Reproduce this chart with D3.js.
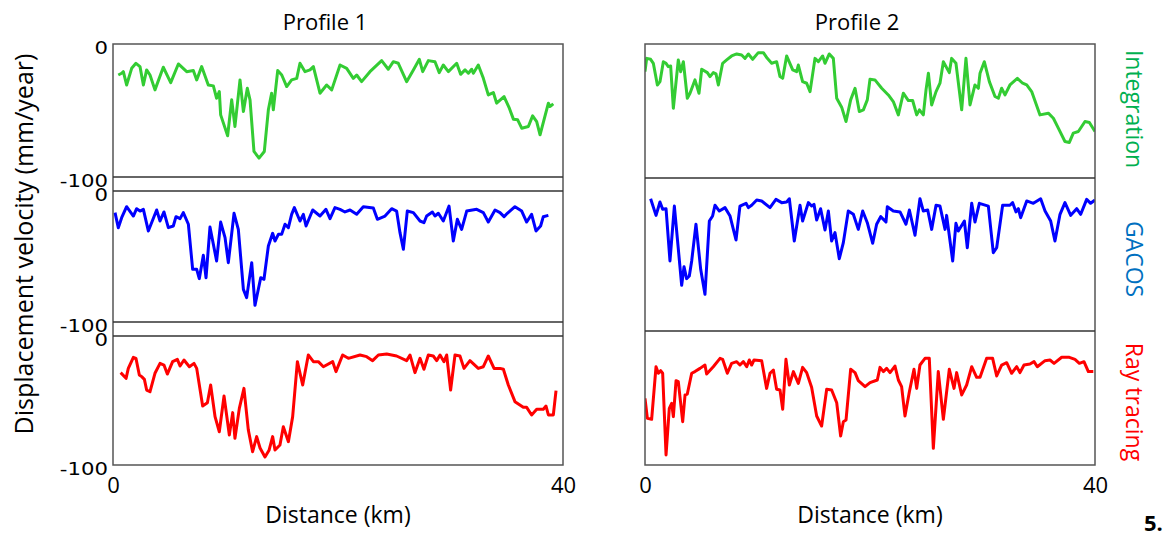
<!DOCTYPE html>
<html>
<head>
<meta charset="utf-8">
<script src="https://cdn.jsdelivr.net/npm/d3@7"></script>
<style>
  body { margin: 0; background: #fff; }
  svg { display: block; }
</style>
</head>
<body>
<script>
// distance (km), displacement velocity (mm/year)
const profiles = ["Profile 1", "Profile 2"];
const methods = ["Integration", "GACOS", "Ray tracing"];
const yTicks = [0, -100];
const xTicks = [0, 40];

const integrationP1 = [[0.47,-23.3],[0.77,-22],[0.92,-20.8],[1.21,-30.8],[1.66,-18.3],[2.04,-14.5],[2.4,-17],[2.7,-30.8],[2.99,-19.5],[3.29,-23.3],[3.73,-34.5],[4.47,-17.5],[5.13,-29],[5.81,-15],[6.55,-20.8],[7.14,-20],[7.44,-27],[7.88,-17],[8.47,-30.8],[8.92,-31.5],[9.21,-40.8],[9.45,-35.8],[9.57,-53.3],[10.19,-69],[10.55,-42],[10.84,-62],[11.29,-27],[11.59,-50.8],[11.94,-33.3],[12.18,-42],[12.53,-80.8],[12.98,-85.8],[13.45,-80.8],[13.81,-49.5],[14.1,-37],[14.25,-49.5],[14.64,-20],[15.0,-23.3],[15.44,-32],[15.88,-27],[16.33,-25.8],[16.62,-14.5],[17.07,-20.8],[17.51,-19.5],[17.81,-17],[18.4,-37],[18.99,-30.8],[19.44,-34.5],[20.18,-15.8],[20.77,-18.3],[21.36,-25.8],[21.66,-23.3],[22.1,-28.3],[22.84,-20.8],[23.88,-12.5],[24.47,-19],[24.92,-13.3],[25.36,-14.5],[26.1,-28.3],[26.7,-19.5],[27.23,-11.5],[27.53,-20.8],[28.03,-12.5],[28.62,-13.3],[29.0,-21.5],[29.36,-15.8],[29.81,-20.8],[30.55,-14.5],[30.9,-22.8],[31.29,-19.5],[31.59,-22],[31.88,-19],[32.03,-22],[32.47,-15.8],[32.92,-25.8],[33.36,-38.3],[33.81,-36.5],[34.1,-44.5],[34.76,-39.5],[35.23,-48.3],[35.59,-56.5],[35.97,-57],[36.33,-63.3],[36.92,-62],[37.3,-54],[37.66,-58.3],[37.96,-68.3],[38.7,-44.5],[38.84,-47],[39.14,-45]];

const gacosP1 = [[0.18,-16.5],[0.47,-28],[0.77,-20.4],[1.21,-12],[1.81,-19.1],[2.1,-13.5],[2.4,-15.3],[2.7,-14],[3.14,-30.5],[3.88,-14.5],[4.18,-22.9],[4.53,-16],[4.92,-28],[5.36,-26.7],[5.6,-19.6],[5.96,-21.1],[6.25,-16.5],[6.7,-25.4],[7.08,-59.8],[7.44,-59.8],[7.67,-66.9],[8.03,-49.1],[8.27,-66.2],[8.62,-27.5],[9.21,-53.4],[9.57,-23.7],[9.96,-35.6],[10.25,-54.7],[10.76,-17],[11.14,-29.3],[11.59,-75.1],[11.88,-81.4],[12.33,-54.7],[12.62,-87.3],[13.13,-66.2],[13.42,-67.4],[13.81,-42],[14.19,-32.3],[14.4,-38.2],[14.7,-33.1],[14.99,-33.1],[15.29,-25.4],[15.59,-28],[15.88,-17.8],[16.12,-12.7],[16.62,-22.9],[16.92,-17.8],[17.16,-26.7],[17.75,-14.5],[18.4,-19.1],[18.93,-14],[19.29,-21.1],[19.73,-12.7],[20.18,-14],[20.62,-16],[21.07,-14.5],[21.66,-17.8],[22.25,-12],[23.14,-13],[23.5,-21.6],[24.18,-19.1],[24.77,-13.5],[25.21,-15.3],[25.51,-31.8],[25.81,-44.5],[26.16,-15.3],[26.7,-16.5],[27.29,-22.9],[27.64,-24.2],[27.88,-19.1],[28.39,-16],[28.62,-19.1],[28.92,-17],[29.36,-22.9],[29.87,-11.5],[30.25,-38.2],[30.61,-21.6],[30.99,-29.3],[31.44,-15.3],[32.33,-14],[32.92,-16.5],[33.36,-23.7],[33.96,-14.5],[34.4,-16.5],[34.76,-19.6],[35.05,-17],[35.73,-12],[36.33,-15.3],[36.77,-23.7],[37.21,-17.8],[37.6,-30.5],[38.01,-26.7],[38.25,-19.6],[38.7,-18.6]];

const rayP1 = [[0.68,-28.4],[1.16,-32.8],[1.36,-25.1],[1.81,-16.5],[2.04,-17.3],[2.34,-30.2],[2.55,-31.5],[2.79,-33.6],[2.99,-41.9],[3.29,-43.2],[3.73,-28.9],[4.18,-21.2],[4.53,-22.5],[4.83,-29.5],[5.3,-19.9],[5.72,-18.1],[5.96,-23.3],[6.31,-18.6],[6.79,-23.8],[7.2,-21.2],[7.44,-25.1],[7.97,-54.3],[8.39,-51.7],[8.68,-38],[9.07,-62.5],[9.45,-74.2],[9.87,-46.5],[10.34,-76.7],[10.64,-59.4],[10.84,-79.3],[11.23,-56.1],[11.64,-40.6],[12.03,-72.9],[12.41,-89.7],[12.77,-78],[13.07,-86.8],[13.51,-93.8],[13.87,-88.6],[14.19,-78],[14.4,-88.4],[14.84,-84.5],[15.14,-70.3],[15.59,-81.9],[15.97,-62.5],[16.39,-19.9],[16.86,-38],[17.36,-14.7],[17.81,-19.9],[18.25,-19.9],[18.7,-23.8],[19.53,-19.9],[19.82,-27.6],[20.41,-14.7],[20.92,-17.3],[21.96,-14.7],[22.55,-16],[23.08,-19.1],[23.59,-14.7],[24.33,-14],[25.21,-15.5],[26.1,-19.1],[26.4,-14.7],[26.84,-28.4],[27.29,-17.3],[27.64,-25.8],[28.03,-14.7],[28.47,-15.5],[28.77,-19.1],[29.07,-14.7],[29.42,-19.9],[29.66,-14.7],[30.01,-41.9],[30.4,-14.7],[30.84,-15.5],[31.2,-25.1],[31.73,-19.1],[32.47,-25.1],[32.92,-23.8],[33.36,-15.5],[33.87,-25.1],[34.4,-25.1],[34.7,-25.8],[35.14,-38],[35.73,-50.9],[36.47,-55.3],[36.77,-55.3],[37.21,-61.2],[37.66,-56.8],[38.25,-56.8],[38.49,-54.3],[38.7,-61.2],[39.14,-61.2],[39.38,-42.4]];

const integrationP2 = [[0,-20.8],[0.15,-10.8],[0.5,-11.5],[0.74,-14.5],[1.1,-30.8],[1.33,-28.3],[1.63,-13.3],[1.87,-14.5],[2.07,-17],[2.28,-16.5],[2.52,-48.3],[2.96,-12],[3.17,-20.8],[3.41,-13.3],[3.76,-40.8],[4.0,-37],[4.44,-27],[4.8,-37],[5.04,-19],[5.54,-21.5],[5.78,-24.5],[6.07,-21.5],[6.31,-22.5],[6.52,-30.8],[6.9,-14.5],[7.26,-12],[7.7,-9],[8.15,-7.5],[8.59,-8.3],[8.89,-10.8],[9.19,-7.5],[9.57,-11.5],[10.07,-6.5],[10.52,-6.5],[10.87,-10.8],[11.26,-14.5],[11.7,-13.3],[12.0,-24.5],[12.24,-25.8],[12.59,-9],[13.13,-19.5],[13.48,-20.8],[13.63,-15.8],[14.01,-28.3],[14.37,-29.5],[14.67,-35.8],[15.11,-10.8],[15.41,-13.3],[15.79,-9],[16.0,-14.5],[16.38,-7.5],[16.74,-10.8],[17.04,-40.8],[17.48,-47.5],[17.87,-58.3],[18.28,-42],[18.67,-33.3],[19.05,-50.8],[19.41,-49.5],[19.76,-42],[20.0,-26.5],[20.44,-27],[21.04,-33.3],[21.63,-38.3],[22.07,-43.3],[22.52,-53.3],[22.96,-37],[23.41,-42.5],[23.79,-42.5],[24.15,-53.3],[24.39,-49.5],[24.74,-53.3],[24.98,-34.5],[25.19,-22],[25.48,-45.8],[25.87,-35.8],[26.22,-29.5],[26.52,-13.3],[27.05,-21.5],[27.26,-10.8],[27.64,-14.5],[28.15,-49.5],[28.53,-10.8],[28.89,-45.8],[29.33,-30.8],[29.63,-33.3],[29.78,-22],[30.16,-13.3],[30.61,-28.3],[31.11,-39.5],[31.41,-40.8],[31.7,-33.3],[32.0,-38.3],[32.44,-30.8],[33.1,-25.8],[33.57,-29.5],[33.93,-30.8],[34.37,-35.8],[35.11,-53.3],[35.85,-52],[36.3,-55.8],[36.74,-63.3],[37.33,-73.3],[37.72,-74],[38.07,-67],[38.52,-65.8],[39.11,-58.3],[39.5,-59],[40,-65.8]];

const gacosP2 = [[0.5,-5.9],[0.98,-18.6],[1.33,-8.4],[1.57,-14],[1.87,-13.5],[2.22,-53.4],[2.61,-11.5],[3.26,-72],[3.47,-57.8],[3.7,-66.9],[3.94,-64.9],[4.15,-53.4],[4.53,-25.4],[4.95,-59.8],[5.33,-78.9],[5.72,-22.9],[6.01,-19.1],[6.22,-10.9],[6.61,-15.3],[7.11,-12.7],[7.56,-19.1],[8.09,-37.4],[8.44,-11.5],[8.98,-9.4],[9.19,-12.7],[9.48,-10.9],[9.93,-6.9],[10.37,-7.6],[11.11,-12.7],[11.64,-6.4],[12.15,-8.9],[12.59,-8.4],[12.83,-5.9],[13.27,-38.2],[13.78,-10.9],[14.01,-22.9],[14.52,-8.9],[14.81,-11.5],[15.02,-10.2],[15.26,-22.1],[15.61,-13.5],[16.0,-29.8],[16.3,-15.3],[16.59,-38.2],[16.89,-31.8],[17.27,-51.7],[17.63,-39.4],[18.07,-15.3],[18.52,-17.8],[18.96,-29.3],[19.35,-15.3],[19.76,-24.2],[20.24,-39.9],[20.59,-25.4],[20.95,-19.6],[21.42,-23.7],[21.54,-12],[22.07,-15.3],[22.67,-16],[23.2,-25.4],[23.5,-14.5],[24.0,-33.8],[24.44,-5.9],[24.74,-15.3],[25.13,-14.5],[25.48,-29.3],[25.87,-10.9],[26.22,-11.5],[26.67,-29.3],[26.81,-18.6],[27.35,-53.4],[27.64,-24.7],[27.85,-30.5],[28.39,-22.9],[28.65,-43.3],[29.04,-9.4],[29.33,-23.7],[29.72,-9.4],[30.52,-11.5],[30.96,-47.1],[31.26,-43.3],[31.79,-10.9],[32.44,-10.9],[32.68,-8.9],[32.98,-16],[33.19,-13.5],[33.39,-20.4],[33.93,-7.6],[34.52,-9.4],[35.17,-5.9],[35.56,-15.3],[36.06,-22.9],[36.44,-38.2],[36.89,-17.8],[37.33,-8.9],[37.84,-18.6],[38.37,-13.5],[38.73,-17.8],[39.26,-6.4],[39.61,-9.4],[40,-6.9]];

const rayP2 = [[0,-48.3],[0.21,-63.8],[0.59,-64.6],[0.98,-23.8],[1.19,-28.9],[1.39,-26.9],[1.57,-28.9],[1.87,-92.2],[2.16,-56.1],[2.37,-52.2],[2.52,-62.5],[2.76,-34.6],[2.96,-35.4],[3.35,-66.4],[3.56,-45.7],[3.76,-45],[4.15,-28.9],[4.44,-27.6],[4.89,-25.1],[5.33,-22.5],[5.48,-29.5],[6.07,-23.8],[6.67,-17.3],[6.9,-18.1],[7.32,-28.9],[7.7,-21.2],[8.15,-19.9],[8.44,-22.5],[8.74,-19.9],[9.04,-23.8],[9.27,-18.6],[9.48,-22.5],[9.69,-18.6],[10.37,-19.1],[10.81,-40.6],[11.11,-28.9],[11.41,-26.4],[11.7,-41.3],[12.0,-41.9],[12.24,-56.8],[12.53,-18.1],[12.83,-38],[13.19,-27.6],[13.63,-36.7],[14.01,-24.3],[14.37,-28.4],[14.81,-39.8],[15.26,-62],[15.7,-69.8],[16.15,-41.3],[16.59,-41.9],[17.04,-51.7],[17.39,-77.5],[17.63,-66.4],[17.87,-65.1],[18.28,-25.8],[18.67,-28.4],[18.96,-34.6],[19.56,-39.3],[20.0,-36.2],[20.65,-34.1],[20.89,-24.3],[21.19,-27.6],[21.48,-25.1],[21.78,-28.4],[22.22,-23.3],[22.52,-34.1],[22.81,-39.3],[23.11,-62],[23.5,-43.2],[23.91,-25.8],[24.15,-40.6],[24.44,-22.5],[24.89,-17.3],[25.27,-17.3],[25.63,-87.1],[26.07,-27.6],[26.52,-64.6],[27.05,-25.8],[27.47,-40.6],[27.7,-28.4],[28.15,-45.7],[28.59,-38],[29.04,-23.8],[29.48,-32],[29.78,-32],[30.37,-17.3],[30.9,-17.3],[31.26,-31],[31.7,-22.5],[32.15,-20.7],[32.59,-28.9],[33.04,-23.8],[33.33,-28.4],[33.69,-22.5],[34.22,-21.7],[34.58,-19.9],[34.87,-23.8],[35.56,-19.1],[36.0,-18.6],[36.36,-21.2],[37.04,-16.5],[37.72,-16.5],[38.22,-18.1],[38.61,-21.2],[39.02,-19.9],[39.41,-27.6],[39.85,-27.6]];

const series = [
  [integrationP1, gacosP1, rayP1],
  [integrationP2, gacosP2, rayP2]
];
const lineColors = ["#33cc33", "#0000ff", "#ff0000"];
const labelColors = ["#00b050", "#0070c0", "#ff0000"];

const width = 1175, height = 537;
const boxTop = 44, boxBottom = 465;
const columns = [{x0: 113, x1: 563}, {x0: 645, x1: 1095}];
// row extents (data scale), left column shows small gaps between rows
const rows = [{y0: 44, y1: 177}, {y0: 191, y1: 322}, {y0: 336, y1: 465}];
// boundaries drawn inside each column box
const dividers = [[177, 191, 322, 336], [178, 331]];

const svg = d3.select("body").append("svg")
  .attr("width", width)
  .attr("height", height)
  .style("font-family", "'Open Sans', sans-serif");

const line = d3.line();

columns.forEach((col, ci) => {
  const x = d3.scaleLinear().domain([0, 40]).range([col.x0, col.x1]);
  const g = svg.append("g");

  g.append("clipPath").attr("id", "clip" + ci)
    .append("rect")
    .attr("x", col.x0).attr("y", boxTop)
    .attr("width", col.x1 - col.x0).attr("height", boxBottom - boxTop);

  rows.forEach((row, ri) => {
    const y = d3.scaleLinear().domain([-100, 0]).range([row.y1, row.y0]);
    line.x(d => x(d[0])).y(d => y(d[1]));
    g.append("path")
      .datum(series[ci][ri])
      .attr("clip-path", `url(#clip${ci})`)
      .attr("fill", "none")
      .attr("stroke", lineColors[ri])
      .attr("stroke-width", 3)
      .attr("stroke-linejoin", "round")
      .attr("d", line);

    if (ci === 0) {
      const ax = g.append("g")
        .attr("transform", `translate(${col.x0 - 5},3.5)`)
        .call(d3.axisLeft(y).tickValues(yTicks).tickSize(0).tickPadding(0).tickFormat(d => String(d)));
      ax.select(".domain").remove();
      // the source font is wide: stretch the digits a little
      ax.selectAll("text")
        .attr("font-family", "'DejaVu Sans', sans-serif")
        .attr("font-size", 18)
        .attr("transform", "scale(1.18,1)")
        .attr("fill", "#000");
    }
  });

  g.append("rect")
    .attr("x", col.x0).attr("y", boxTop)
    .attr("width", col.x1 - col.x0).attr("height", boxBottom - boxTop)
    .attr("fill", "none").attr("stroke", "#555").attr("stroke-width", 1.5);

  g.selectAll("line.div")
    .data(dividers[ci])
    .join("line")
    .attr("x1", col.x0).attr("x2", col.x1)
    .attr("y1", d => d).attr("y2", d => d)
    .attr("stroke", "#333").attr("stroke-width", 1.3);

  const xa = g.append("g")
    .attr("transform", `translate(0,${boxBottom + 7})`)
    .call(d3.axisBottom(x).tickValues(xTicks).tickSize(0).tickPadding(0));
  xa.select(".domain").remove();
  xa.selectAll("text")
    .attr("font-family", "'Open Sans', sans-serif")
    .attr("font-size", 22)
    .attr("fill", "#000")
    .attr("dy", "0.95em");

  g.append("text")
    .attr("x", (col.x0 + col.x1) / 2 - 13)
    .attr("y", 30)
    .attr("text-anchor", "middle")
    .attr("font-size", 22)
    .text(profiles[ci]);

  g.append("text")
    .attr("x", (col.x0 + col.x1) / 2)
    .attr("y", 523)
    .attr("text-anchor", "middle")
    .attr("font-size", 23)
    .text("Distance (km)");
});

svg.append("text")
  .attr("transform", "translate(33,244) rotate(-90)")
  .attr("text-anchor", "middle")
  .attr("font-size", 25)
  .text("Displacement velocity (mm/year)");

const labelY = [109, 259, 402];
methods.forEach((m, i) => {
  svg.append("text")
    .attr("transform", `translate(1126,${labelY[i]}) rotate(90)`)
    .attr("text-anchor", "middle")
    .attr("font-size", 23)
    .attr("fill", labelColors[i])
    .text(m);
});

svg.append("text")
  .attr("x", 1144).attr("y", 531)
  .attr("font-size", 22)
  .attr("font-weight", "bold")
  .text("5.");
</script>
</body>
</html>
